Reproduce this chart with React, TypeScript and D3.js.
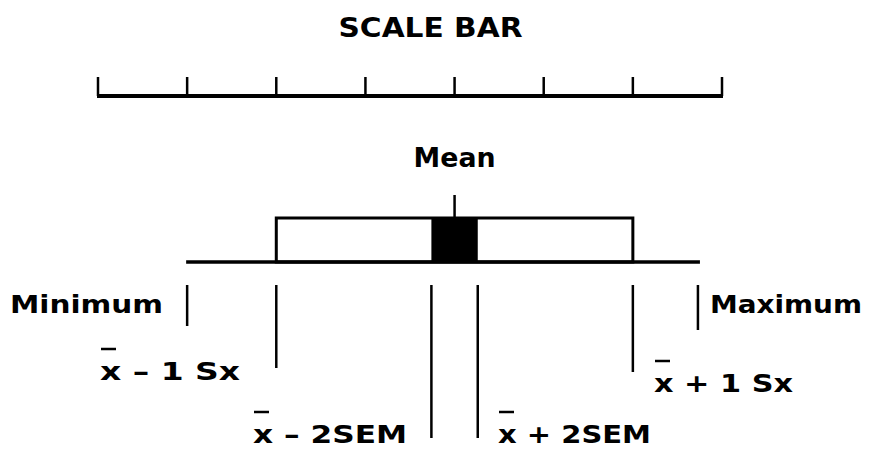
import { useEffect, useRef } from "react";
import * as d3 from "d3";

// scale bar runs 0..7 units
const scaleTicks = [0, 1, 2, 3, 4, 5, 6, 7];

// summary statistics (scale units)
const minimum = 1.0;
const maximum = 6.73;
const mean = 4.0;
const sd = 2.0;
const sem = 0.13;

const titleText = "SCALE BAR";
const meanText = "Mean";
const labelTexts = ["Minimum", "Maximum", "x - 1 Sx", "x + 1 Sx", "x - 2SEM", "x + 2SEM"];

const W = 891;
const H = 449;

export default function App() {
    const ref = useRef<SVGSVGElement>(null);

    useEffect(() => {
        const svg = d3.select(ref.current);
        svg.selectAll("*").remove();

        const x = d3.scaleLinear().domain([0, 7]).range([98, 722]);
        const font = "'DejaVu Sans', sans-serif";

        // title
        svg.append("text")
            .attr("x", x(3.73)).attr("y", 37)
            .attr("text-anchor", "middle")
            .attr("font-family", font).attr("font-weight", "bold")
            .attr("font-size", 27)
            .attr("textLength", 184).attr("lengthAdjust", "spacingAndGlyphs")
            .text(titleText);

        // scale bar
        const axisG = svg.append("g").attr("transform", "translate(0,96)");
        axisG.append("line")
            .attr("x1", x(0) - 1).attr("x2", x(7) + 1)
            .attr("stroke", "#000").attr("stroke-width", 4);
        axisG.selectAll(".tick").data(scaleTicks).join("line")
            .attr("class", "tick")
            .attr("x1", d => x(d)).attr("x2", d => x(d))
            .attr("y1", 0).attr("y2", -19)
            .attr("stroke", "#000").attr("stroke-width", 2.5);

        // mean label + tick
        svg.append("text")
            .attr("x", x(mean)).attr("y", 167)
            .attr("text-anchor", "middle")
            .attr("font-family", font).attr("font-weight", "bold")
            .attr("font-size", 26)
            .attr("textLength", 82).attr("lengthAdjust", "spacingAndGlyphs")
            .text(meanText);
        svg.append("line")
            .attr("x1", x(mean)).attr("x2", x(mean))
            .attr("y1", 195).attr("y2", 218)
            .attr("stroke", "#000").attr("stroke-width", 2.5);

        // box = mean +/- 1 sd, black = mean +/- 2 sem
        const boxTop = 218, boxBottom = 262;
        svg.append("rect")
            .attr("x", x(mean - sd)).attr("y", boxTop)
            .attr("width", x(mean + sd) - x(mean - sd))
            .attr("height", boxBottom - boxTop)
            .attr("fill", "#fff").attr("stroke", "#000").attr("stroke-width", 3);
        svg.append("rect")
            .attr("x", x(mean - 2 * sem)).attr("y", boxTop)
            .attr("width", x(mean + 2 * sem) - x(mean - 2 * sem))
            .attr("height", boxBottom - boxTop)
            .attr("fill", "#000");

        // range line
        svg.append("line")
            .attr("x1", x(minimum) - 1).attr("x2", x(maximum) + 2)
            .attr("y1", boxBottom).attr("y2", boxBottom)
            .attr("stroke", "#000").attr("stroke-width", 3.5);

        // marker lines with labels
        const markers = [
            { v: minimum, bottom: 326, label: labelTexts[0], lx: 10, ly: 313, w: 153, bar: false },
            { v: maximum, bottom: 330, label: labelTexts[1], lx: 710, ly: 313, w: 152, bar: false },
            { v: mean - sd, bottom: 368, label: labelTexts[2], lx: 100, ly: 380, w: 140, bar: true },
            { v: mean + sd, bottom: 372, label: labelTexts[3], lx: 654, ly: 392, w: 139, bar: true },
            { v: mean - 2 * sem, bottom: 438, label: labelTexts[4], lx: 253, ly: 443, w: 154, bar: true },
            { v: mean + 2 * sem, bottom: 438, label: labelTexts[5], lx: 498, ly: 443, w: 153, bar: true },
        ];

        const mg = svg.append("g");
        mg.selectAll(".mline").data(markers).join("line")
            .attr("class", "mline")
            .attr("x1", d => x(d.v)).attr("x2", d => x(d.v))
            .attr("y1", 285).attr("y2", d => d.bottom)
            .attr("stroke", "#000").attr("stroke-width", 2.5);

        mg.selectAll(".mlabel").data(markers).join("text")
            .attr("class", "mlabel")
            .attr("x", d => d.lx).attr("y", d => d.ly)
            .attr("font-family", font).attr("font-weight", "bold")
            .attr("font-size", 25)
            .attr("textLength", d => d.w).attr("lengthAdjust", "spacingAndGlyphs")
            .attr("xml:space", "preserve")
            .text(d => d.label.replace(" - ", " \u2013 "));

        // overbar on x-bar
        mg.selectAll(".obar").data(markers.filter(d => d.bar)).join("line")
            .attr("class", "obar")
            .attr("x1", d => d.lx + 1).attr("x2", d => d.lx + 16)
            .attr("y1", d => d.ly - 31).attr("y2", d => d.ly - 31)
            .attr("stroke", "#000").attr("stroke-width", 2.5);
    }, []);

    return (
        <svg
            ref={ref}
            width={W}
            height={H}
            style={{ position: "absolute", left: 0, top: 0, background: "#fff" }}
        />
    );
}
